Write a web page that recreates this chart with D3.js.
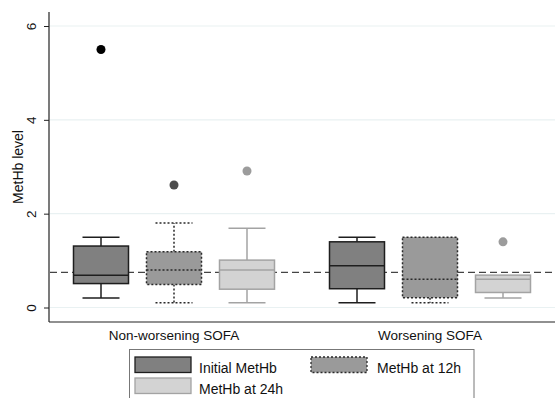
<!DOCTYPE html>
<html>
<head>
<meta charset="utf-8">
<script src="https://cdn.jsdelivr.net/npm/d3@7"></script>
<style>
  html, body { margin: 0; padding: 0; background: #fff; }
  svg { display: block; font-family: "Liberation Sans", Arial, Helvetica, sans-serif; }
</style>
</head>
<body>
<svg id="chart" width="555" height="398"></svg>
<script>
// Groups and series
const groups = ["Non-worsening SOFA", "Worsening SOFA"];
const series = ["Initial MetHb", "MetHb at 12h", "MetHb at 24h"];

// Box summaries per group, in series order: [lowWhisker, q1, median, q3, highWhisker]
const nonWorsening = [
  [0.20, 0.51, 0.69, 1.31, 1.50],
  [0.10, 0.49, 0.80, 1.19, 1.80],
  [0.10, 0.39, 0.80, 1.01, 1.69]
];
const worsening = [
  [0.10, 0.40, 0.89, 1.40, 1.50],
  [0.10, 0.21, 0.60, 1.50, 1.50],
  [0.20, 0.32, 0.60, 0.69, 0.69]
];
// Outliers per group, in series order
const nonWorseningOutliers = [[5.5], [2.61], [2.91]];
const worseningOutliers = [[], [], [1.40]];

const referenceLevel = 0.75;
const yTicks = [0, 2, 4, 6];

const boxData = [nonWorsening, worsening];
const outlierData = [nonWorseningOutliers, worseningOutliers];

const styles = {
  "Initial MetHb": { fill: "#808080", stroke: "#1e1e1e", dash: null, dot: "#000000" },
  "MetHb at 12h":  { fill: "#9a9a9a", stroke: "#2a2a2a", dash: "2,2", dot: "#4d4d4d" },
  "MetHb at 24h":  { fill: "#d3d3d3", stroke: "#a3a3a3", dash: null, dot: "#9c9c9c" }
};

const svg = d3.select("#chart");
const plotLeft = 49, plotRight = 555, plotTop = 12, plotBottom = 322;

const y = d3.scaleLinear().domain([0, 6]).range([307.5, 26]);
const x = d3.scaleBand().domain(groups).range([46, 558]).paddingInner(0).paddingOuter(0);
const xs = d3.scalePoint().domain(series).range([-73, 73]);
const boxW = 55, capW = 37;

// Grid lines
svg.append("g").selectAll("line").data(yTicks).join("line")
  .attr("x1", plotLeft + 1).attr("x2", plotRight)
  .attr("y1", d => y(d)).attr("y2", d => y(d))
  .attr("stroke", "#e9f1f2").attr("stroke-width", 1.2);

// Y axis
const yAxis = svg.append("g").attr("transform", `translate(${plotLeft},0)`)
  .call(d3.axisLeft(y).tickValues(yTicks).tickSize(5).tickFormat(d3.format("d")));
yAxis.select(".domain").remove();
yAxis.selectAll(".tick line").attr("stroke", "#222");
yAxis.selectAll(".tick text").remove();
yAxis.selectAll(".tick").append("text")
  .attr("transform", "translate(-13,0) rotate(-90)")
  .attr("text-anchor", "middle")
  .attr("fill", "#111").style("font-size", "13.5px")
  .text(d => d);
svg.append("line").attr("x1", plotLeft).attr("x2", plotLeft)
  .attr("y1", plotTop).attr("y2", plotBottom).attr("stroke", "#222").attr("stroke-width", 1.2);

svg.append("text")
  .attr("transform", "translate(23,167) rotate(-90)")
  .attr("text-anchor", "middle").attr("fill", "#111").style("font-size", "14px")
  .text("MetHb level");

// X axis
svg.append("line").attr("x1", plotLeft).attr("x2", plotRight)
  .attr("y1", plotBottom).attr("y2", plotBottom).attr("stroke", "#222").attr("stroke-width", 1.2);
svg.append("g").selectAll("text").data(groups).join("text")
  .attr("x", d => x(d) + x.bandwidth() / 2).attr("y", 340)
  .attr("text-anchor", "middle").attr("fill", "#111").style("font-size", "13.5px")
  .text(d => d);

// Reference line, behind the boxes
svg.append("line").attr("x1", plotLeft + 1).attr("x2", plotRight)
  .attr("y1", y(referenceLevel)).attr("y2", y(referenceLevel))
  .attr("stroke", "#444").attr("stroke-width", 1.3).attr("stroke-dasharray", "7,4");

// Boxes
groups.forEach((g, gi) => {
  series.forEach((s, si) => {
    const [lo, q1, med, q3, hi] = boxData[gi][si];
    const st = styles[s];
    const cx = x(g) + x.bandwidth() / 2 + xs(s);
    const gg = svg.append("g");
    const line = (x1, x2, y1, y2) => gg.append("line")
      .attr("x1", x1).attr("x2", x2).attr("y1", y1).attr("y2", y2)
      .attr("stroke", st.stroke).attr("stroke-width", 1.5)
      .attr("stroke-dasharray", st.dash);
    // whiskers
    if (hi > q3) { line(cx, cx, y(q3), y(hi)); line(cx - capW / 2, cx + capW / 2, y(hi), y(hi)); }
    line(cx, cx, y(q1), y(lo)); line(cx - capW / 2, cx + capW / 2, y(lo), y(lo));
    gg.append("rect")
      .attr("x", cx - boxW / 2).attr("width", boxW)
      .attr("y", y(q3)).attr("height", y(q1) - y(q3))
      .attr("fill", st.fill).attr("stroke", st.stroke).attr("stroke-width", 1.5)
      .attr("stroke-dasharray", st.dash);
    line(cx - boxW / 2, cx + boxW / 2, y(med), y(med));
    gg.selectAll("circle").data(outlierData[gi][si]).join("circle")
      .attr("cx", cx).attr("cy", d => y(d)).attr("r", 4.5).attr("fill", st.dot);
  });
});

// Legend
const legend = svg.append("g");
legend.append("rect").attr("x", 129.5).attr("y", 349.5).attr("width", 344.5).attr("height", 60)
  .attr("fill", "#fff").attr("stroke", "#777").attr("stroke-width", 1);
const legendPos = [
  { kx: 135, ky: 357, tx: 199, ty: 372.5 },
  { kx: 311, ky: 357, tx: 377, ty: 372.5 },
  { kx: 135, ky: 378, tx: 199, ty: 393.5 }
];
series.forEach((s, i) => {
  const st = styles[s], p = legendPos[i];
  legend.append("rect").attr("x", p.kx).attr("y", p.ky).attr("width", 56).attr("height", 15.5)
    .attr("fill", st.fill).attr("stroke", st.stroke).attr("stroke-width", 1.3)
    .attr("stroke-dasharray", st.dash);
  legend.append("text").attr("x", p.tx).attr("y", p.ty)
    .attr("fill", "#111").style("font-size", "14px").text(s);
});
</script>
</body>
</html>
